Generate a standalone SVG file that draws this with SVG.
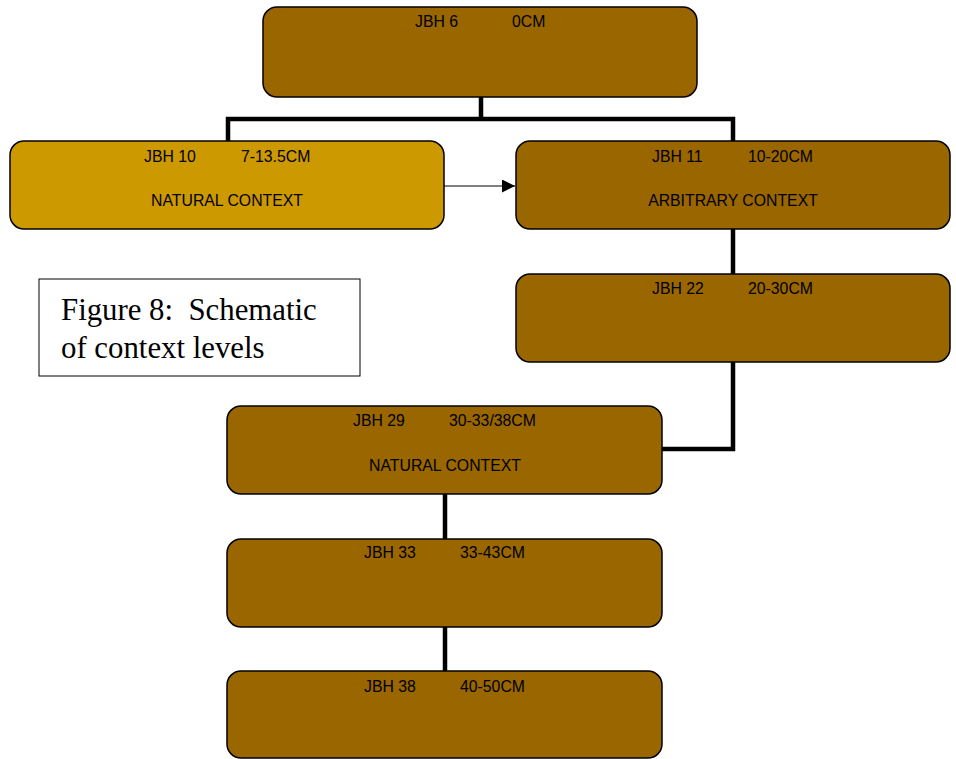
<svg xmlns="http://www.w3.org/2000/svg" width="956" height="759" viewBox="0 0 956 759">
<style>
.box{fill:#996600;stroke:#000;stroke-width:1.5}
.light{fill:#CC9900}
.t{font-family:"Liberation Sans",Arial,sans-serif;font-size:15.8px;fill:#000}
.c{text-anchor:middle}
.conn{fill:none;stroke:#000;stroke-width:4.5}
.arr{fill:none;stroke:#000;stroke-width:1.2}
.fig{font-family:"Liberation Serif","Times New Roman",serif;font-size:30.8px;fill:#000}
</style>
<defs>
<marker id="ah" viewBox="0 0 10 10" refX="10" refY="5" markerWidth="15" markerHeight="13" markerUnits="userSpaceOnUse" orient="auto">
<path d="M0,0 L10,5 L0,10 z" fill="#000"/>
</marker>
</defs>
<g id="connectors">
<path class="conn" d="M481,97 V119 M228,141 V119 H733 V141"/>
<path class="conn" d="M733,229 V274"/>
<path class="conn" d="M733,362 V449 H662"/>
<path class="conn" d="M445,494 V539"/>
<path class="conn" d="M445,627 V671"/>
<path class="arr" d="M444,186 H515" marker-end="url(#ah)"/>
</g>
<g id="jbh6">
<rect class="box" x="263" y="7" width="434" height="90" rx="14"/>
<text class="t" x="415" y="27">JBH 6</text>
<text class="t" x="512" y="27">0CM</text>
</g>
<g id="jbh10">
<rect class="box light" x="10" y="141" width="434" height="88" rx="14"/>
<text class="t" x="144" y="162">JBH 10</text>
<text class="t" x="241" y="162">7-13.5CM</text>
<text class="t c" x="227" y="206">NATURAL CONTEXT</text>
</g>
<g id="jbh11">
<rect class="box" x="516" y="141" width="434" height="88" rx="14"/>
<text class="t" x="652" y="162">JBH 11</text>
<text class="t" x="748" y="162">10-20CM</text>
<text class="t c" x="733" y="206">ARBITRARY CONTEXT</text>
</g>
<g id="jbh22">
<rect class="box" x="516" y="274" width="434" height="88" rx="14"/>
<text class="t" x="652" y="294">JBH 22</text>
<text class="t" x="748" y="294">20-30CM</text>
</g>
<g id="jbh29">
<rect class="box" x="227" y="406" width="435" height="88" rx="14"/>
<text class="t" x="353" y="426">JBH 29</text>
<text class="t" x="449" y="426">30-33/38CM</text>
<text class="t c" x="445" y="471">NATURAL CONTEXT</text>
</g>
<g id="jbh33">
<rect class="box" x="227" y="539" width="435" height="88" rx="14"/>
<text class="t" x="364" y="558">JBH 33</text>
<text class="t" x="460" y="558">33-43CM</text>
</g>
<g id="jbh38">
<rect class="box" x="227" y="671" width="435" height="87" rx="14"/>
<text class="t" x="364" y="692">JBH 38</text>
<text class="t" x="460" y="692">40-50CM</text>
</g>
<g id="caption">
<rect x="39" y="279" width="321" height="97" fill="#fff" stroke="#000" stroke-width="1"/>
<text class="fig" x="61" y="320" xml:space="preserve">Figure 8:  Schematic</text>
<text class="fig" x="61" y="358">of context levels</text>
</g>
</svg>
